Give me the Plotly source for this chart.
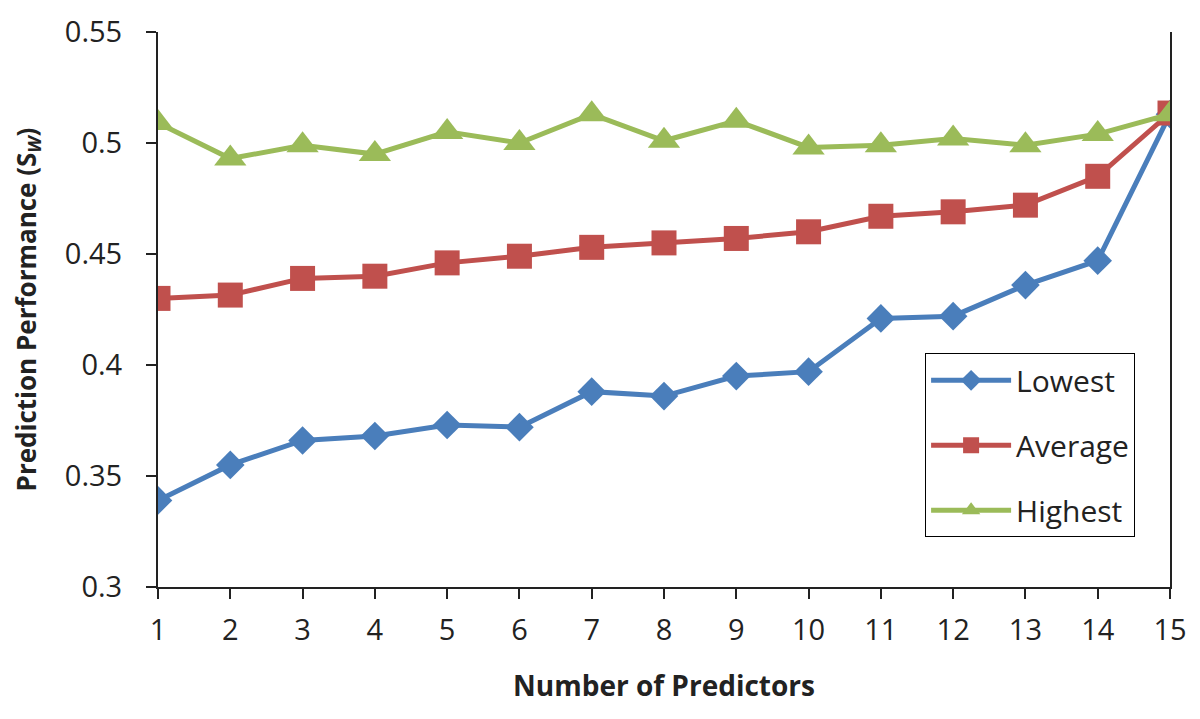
import plotly.graph_objects as go

predictors = list(range(1, 16))
lowest = [0.339, 0.355, 0.366, 0.368, 0.373, 0.372, 0.388, 0.386, 0.395, 0.397,
          0.421, 0.422, 0.436, 0.447, 0.513]
average = [0.430, 0.4315, 0.439, 0.440, 0.446, 0.449, 0.453, 0.455, 0.457, 0.460,
           0.467, 0.469, 0.472, 0.485, 0.5135]
highest = [0.509, 0.493, 0.499, 0.495, 0.505, 0.500, 0.513, 0.501, 0.510, 0.498,
           0.499, 0.502, 0.499, 0.504, 0.513]
y_ticks = [0.3, 0.35, 0.4, 0.45, 0.5, 0.55]
y_labels = ["0.3", "0.35", "0.4", "0.45", "0.5", "0.55"]

font_name = "Open Sans"

fig = go.Figure()
fig.add_trace(go.Scatter(x=predictors, y=lowest, name="Lowest", mode="lines+markers",
                         legendgroup="a",
                         line=dict(color="#4A7EBB", width=5),
                         marker=dict(symbol="diamond", size=22, color="#4A7EBB")))
fig.add_trace(go.Scatter(x=predictors, y=average, name="Average", mode="lines+markers",
                         legendgroup="b",
                         line=dict(color="#C0504D", width=5),
                         marker=dict(symbol="square", size=25, color="#C0504D")))
fig.add_trace(go.Scatter(x=predictors, y=highest, name="Highest", mode="lines+markers",
                         legendgroup="c",
                         line=dict(color="#9BBB59", width=5),
                         marker=dict(symbol="triangle-up", size=28, color="#9BBB59")))

# page has ~8px body offset, so margins are shifted to land the plot area where the reference has it
fig.update_layout(
    width=1200, height=719,
    paper_bgcolor="white", plot_bgcolor="white",
    margin=dict(l=150, r=38, t=24, b=140),
    font=dict(family=font_name, size=29, color="#222"),
    legend=dict(x=0.758, y=0.421, xanchor="left", yanchor="top",
                bordercolor="black", borderwidth=1, bgcolor="white",
                font=dict(size=30), tracegroupgap=23, itemwidth=80,
                traceorder="grouped"),
    xaxis=dict(range=[1, 15], tickvals=predictors, showgrid=False, zeroline=False,
               showline=True, linecolor="#222", linewidth=2, automargin=False,
               ticks="outside", ticklen=10, tickwidth=2, tickcolor="#222",
               ticklabelstandoff=6,
               title=dict(text="<b>Number of Predictors</b>", font=dict(size=28), standoff=30)),
    yaxis=dict(range=[0.3, 0.55], tickvals=y_ticks, ticktext=y_labels,
               showgrid=False, zeroline=False, automargin=False,
               showline=True, linecolor="#222", linewidth=2, mirror=True,
               ticks="outside", ticklen=10, tickwidth=2, tickcolor="#222",
               ticklabelstandoff=18,
               title=dict(text="<b>Prediction Performance (S<sub><i>W</i></sub>)</b>",
                          font=dict(size=26), standoff=30)),
)

fig.write_html("out.html")
